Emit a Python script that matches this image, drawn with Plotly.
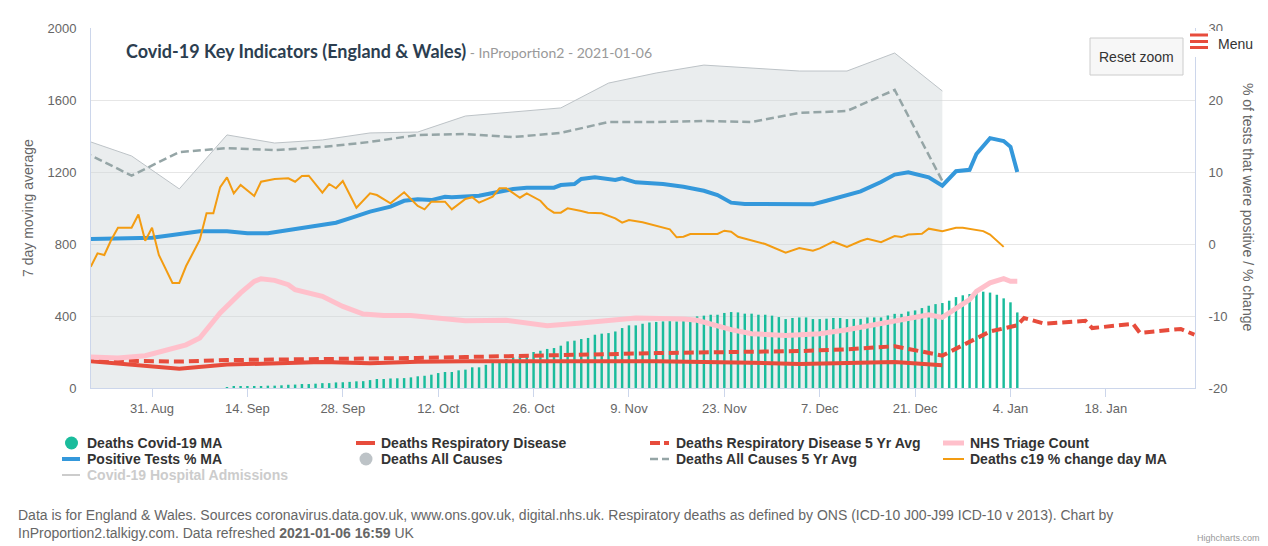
import plotly.graph_objects as go
import pandas as pd

# ---------------- data ----------------
x_range = ["2020-08-22 01:00", "2021-01-31 02:00"]

week_dates = ["2020-08-21", "2020-08-28", "2020-09-04", "2020-09-11", "2020-09-18", "2020-09-25",
              "2020-10-02", "2020-10-09", "2020-10-16", "2020-10-23", "2020-10-30", "2020-11-06",
              "2020-11-13", "2020-11-20", "2020-11-27", "2020-12-04", "2020-12-11", "2020-12-18",
              "2020-12-25"]
deaths_all = [1380, 1289, 1106, 1406, 1361, 1378, 1417, 1422, 1511, 1533, 1556, 1694,
              1750, 1794, 1778, 1761, 1761, 1861, 1650]
deaths_all_5y = [1311, 1180, 1311, 1333, 1322, 1339, 1367, 1406, 1411, 1394, 1417, 1478,
                 1478, 1483, 1478, 1528, 1539, 1656, 1150]
deaths_resp = [152, 130, 107, 130, 139, 144, 137, 146, 148, 150, 150, 149,
               148, 146, 140, 134, 140, 145, 126]

resp5_dates = week_dates + ["2021-01-01", "2021-01-05", "2021-01-06", "2021-01-09", "2021-01-15",
                            "2021-01-16", "2021-01-22", "2021-01-23", "2021-01-29", "2021-01-31"]
deaths_resp_5y = [155, 152, 147, 155, 157, 158, 162, 167, 172, 176, 182, 188,
                  194, 197, 198, 205, 215, 232, 180,
                  314, 348, 389, 357, 373, 333, 356, 306, 328, 296]

c19_start = "2020-09-11"
deaths_c19 = [5, 6, 6, 8, 9, 10, 13, 13, 15, 18, 19, 22, 22, 24, 27, 27, 31, 32, 34, 37,
              38, 44, 50, 50, 53, 54,
              55, 59, 65, 68, 74, 83, 89, 89, 98, 102,
              115, 115, 129, 142, 152, 161, 170, 176, 185, 200,
              207, 217, 222, 235, 259, 263, 272, 278, 296, 302,
              305, 314, 333, 348, 348, 357, 364, 367, 370, 372,
              370, 376, 385, 398, 402, 407, 407, 417, 422, 420,
              413, 413, 407, 407, 402, 394, 383, 389, 392, 392,
              383, 383, 385, 389, 389, 383,
              384, 384, 392, 392, 392, 403, 412, 412, 425, 431,
              444, 457, 466, 472, 485, 505, 515, 522, 532, 535,
              530, 518, 498, 476, 420]
c19_dates = pd.date_range(c19_start, periods=len(deaths_c19), freq="D")

triage_dates = ["2020-08-22", "2020-08-26", "2020-08-30", "2020-09-03", "2020-09-05", "2020-09-07",
                "2020-09-10", "2020-09-13", "2020-09-15", "2020-09-16", "2020-09-18", "2020-09-20",
                "2020-09-21", "2020-09-25", "2020-09-28", "2020-10-01", "2020-10-04", "2020-10-08",
                "2020-10-11", "2020-10-13", "2020-10-16", "2020-10-22", "2020-10-28", "2020-11-02",
                "2020-11-10", "2020-11-17", "2020-11-19", "2020-11-24", "2020-11-27", "2020-12-02",
                "2020-12-07", "2020-12-11", "2020-12-15", "2020-12-20", "2020-12-23", "2020-12-25",
                "2020-12-27", "2020-12-29", "2020-12-30", "2021-01-01", "2021-01-03", "2021-01-04",
                "2021-01-05"]
triage = [172, 167, 179, 218, 240, 278,
          417, 528, 592, 607, 598, 574,
          546, 509, 453, 411, 403, 403,
          392, 383, 374, 376, 346, 361,
          389, 383, 376, 324, 302, 291,
          302, 324, 354, 388, 407, 392,
          444, 491, 537, 584, 608, 593,
          593]

pos_dates = ["2020-08-22", "2020-08-27", "2020-08-31", "2020-09-03", "2020-09-05", "2020-09-07",
             "2020-09-11", "2020-09-14", "2020-09-17", "2020-09-19", "2020-09-22", "2020-09-25",
             "2020-09-27", "2020-09-29", "2020-10-02", "2020-10-05", "2020-10-07", "2020-10-09",
             "2020-10-11", "2020-10-13", "2020-10-14", "2020-10-18", "2020-10-21", "2020-10-23",
             "2020-10-25", "2020-10-29", "2020-10-30", "2020-11-01", "2020-11-02", "2020-11-04",
             "2020-11-07", "2020-11-08", "2020-11-10", "2020-11-12", "2020-11-14", "2020-11-17",
             "2020-11-20", "2020-11-22", "2020-11-24", "2020-11-26", "2020-11-30", "2020-12-03",
             "2020-12-06", "2020-12-08", "2020-12-10", "2020-12-13", "2020-12-16", "2020-12-18",
             "2020-12-20", "2020-12-23", "2020-12-25", "2020-12-27", "2020-12-29", "2020-12-30",
             "2021-01-01", "2021-01-03", "2021-01-04", "2021-01-05"]
pos_pct = [0.69, 0.74, 0.87, 1.25, 1.53, 1.76,
           1.76, 1.49, 1.49, 1.8, 2.3, 2.74,
           2.96, 3.57, 4.49, 5.18, 6.0, 6.2,
           6.1, 6.57, 6.5, 6.7, 7.26, 7.64,
           7.82, 7.82, 8.19, 8.33, 9.03, 9.26,
           8.89, 9.13, 8.57, 8.43, 8.33, 7.96,
           7.4, 6.8, 5.74, 5.56, 5.56, 5.51,
           5.51, 6.0, 6.57, 7.3, 8.6, 9.64,
           9.96, 9.26, 8.1, 10.1, 10.3, 12.5,
           14.7, 14.3, 13.5, 10.0]

chg_dates = ["2020-08-22", "2020-08-23", "2020-08-24", "2020-08-25", "2020-08-26", "2020-08-28",
             "2020-08-29", "2020-08-30", "2020-08-31", "2020-09-01", "2020-09-03", "2020-09-04",
             "2020-09-05", "2020-09-07", "2020-09-08", "2020-09-09", "2020-09-10", "2020-09-11",
             "2020-09-12", "2020-09-13", "2020-09-15", "2020-09-16", "2020-09-18", "2020-09-20",
             "2020-09-21", "2020-09-22", "2020-09-23", "2020-09-25", "2020-09-26", "2020-09-27",
             "2020-09-28", "2020-09-30", "2020-10-02", "2020-10-03", "2020-10-05", "2020-10-07",
             "2020-10-09", "2020-10-10", "2020-10-11", "2020-10-13", "2020-10-14", "2020-10-16",
             "2020-10-17", "2020-10-18", "2020-10-20", "2020-10-21", "2020-10-22", "2020-10-24",
             "2020-10-25", "2020-10-27", "2020-10-28", "2020-10-29", "2020-10-30", "2020-10-31",
             "2020-11-02", "2020-11-03", "2020-11-05", "2020-11-07", "2020-11-08", "2020-11-09",
             "2020-11-11", "2020-11-13", "2020-11-15", "2020-11-16", "2020-11-17", "2020-11-18",
             "2020-11-22", "2020-11-23", "2020-11-24", "2020-11-25", "2020-11-27", "2020-11-29",
             "2020-12-02", "2020-12-04", "2020-12-06", "2020-12-07", "2020-12-09", "2020-12-11",
             "2020-12-13", "2020-12-14", "2020-12-16", "2020-12-18", "2020-12-19", "2020-12-20",
             "2020-12-22", "2020-12-23", "2020-12-25", "2020-12-27", "2020-12-28", "2020-12-30",
             "2020-12-31", "2021-01-01", "2021-01-03"]
chg_pct = [-3.15, -1.3, -1.53, 0.56, 2.26, 2.26,
           4.1, 0.46, 2.26, -1.53, -5.4, -5.4,
           -3.06, 0.56, 4.26, 4.26, 7.9, 9.26,
           7.04, 8.2, 6.67, 8.65, 9.03, 9.13,
           8.65, 9.44, 9.49, 7.13, 8.33, 7.74,
           8.75, 5.04, 7.04, 6.8, 5.65, 7.18,
           5.28, 4.82, 5.88, 5.88, 4.82, 6.25,
           6.5, 5.74, 6.57, 7.74, 7.74, 6.43,
           7.04, 6.01, 4.96, 4.35, 4.35, 4.96,
           4.58, 4.35, 4.26, 3.57, 2.96, 3.33,
           3.01, 2.54, 2.04, 0.93, 1.01, 1.39,
           1.39, 1.85, 1.71, 1.01, 0.46, 0.0,
           -1.21, -0.56, -0.93, -0.6, 0.32, -0.4,
           0.42, 0.72, 0.25, 1.1, 0.96, 1.32,
           1.42, 2.13, 1.79, 2.26, 2.26, 1.89,
           1.79, 1.32, -0.4]

left_ticks = [0, 400, 800, 1200, 1600, 2000]
right_ticks = [-20, -10, 0, 10, 20, 30]

legend_row1 = ["Deaths Covid-19 MA", "Deaths Respiratory Disease",
               "Deaths Respiratory Disease 5 Yr Avg", "NHS Triage Count"]
legend_row2 = ["Positive Tests % MA", "Deaths All Causes",
               "Deaths All Causes 5 Yr Avg", "Deaths c19 % change day MA"]
legend_row3 = ["Covid-19 Hospital Admissions"]

# ---------------- styling ----------------
TEAL = "#1abc9c"
RED = "#e74c3c"
PINK = "#ffc0cb"
BLUE = "#3498db"
ORANGE = "#f39c12"
GREY_D = "#95a5a6"
GREY_A = "#bdc3c7"
FONT = "Liberation Sans, Arial, sans-serif"

W, H = 1268, 546
ML, MR, MT, MB = 91, 73, 28, 158
PW, PH = W - ML - MR, H - MT - MB


def px(x):
    return (x - ML) / PW


def py(y):
    return (H - MB - y) / PH


fig = go.Figure()

# area + 5yr average on main left axis (bottom layer)
fig.add_trace(go.Scatter(x=week_dates, y=deaths_all, mode="lines", name="Deaths All Causes",
                         line=dict(color=GREY_A, width=1), fill="tozeroy",
                         fillcolor="rgba(208,214,218,0.45)", yaxis="y"))
fig.add_trace(go.Scatter(x=week_dates, y=deaths_all_5y, mode="lines", name="Deaths All Causes 5 Yr Avg",
                         line=dict(color=GREY_D, width=2.5, dash="8px,4px"), yaxis="y"))

# percentage series on right axis
fig.add_trace(go.Scatter(x=pos_dates, y=pos_pct, mode="lines", name="Positive Tests % MA",
                         line=dict(color=BLUE, width=4), yaxis="y2"))
fig.add_trace(go.Scatter(x=chg_dates, y=chg_pct, mode="lines", name="Deaths c19 % change day MA",
                         line=dict(color=ORANGE, width=2), yaxis="y2"))

# bars and lower lines on overlay left-scale axis (drawn above the area)
fig.add_trace(go.Bar(x=c19_dates, y=deaths_c19, name="Deaths Covid-19 MA",
                     marker=dict(color=TEAL, line=dict(width=0)),
                     width=0.36 * 86400000, yaxis="y3"))
fig.add_trace(go.Scatter(x=week_dates, y=deaths_resp, mode="lines", name="Deaths Respiratory Disease",
                         line=dict(color=RED, width=4), yaxis="y3"))
fig.add_trace(go.Scatter(x=resp5_dates, y=deaths_resp_5y, mode="lines",
                         name="Deaths Respiratory Disease 5 Yr Avg",
                         line=dict(color=RED, width=4, dash="10px,5px"), yaxis="y3"))
fig.add_trace(go.Scatter(x=triage_dates, y=triage, mode="lines", name="NHS Triage Count",
                         line=dict(color=PINK, width=5), yaxis="y3"))

fig.update_layout(
    width=W, height=H,
    margin=dict(l=ML, r=MR, t=MT, b=MB),
    paper_bgcolor="white", plot_bgcolor="white",
    showlegend=False, hovermode=False,
    font=dict(family=FONT, size=13, color="#666666"),
    xaxis=dict(type="date", range=x_range, tick0="2020-08-31", dtick=14 * 86400000,
               tickformat="%-d. %b", ticks="outside", ticklen=8, tickcolor="#ccd6eb",
               showline=True, linecolor="#ccd6eb", showgrid=False, zeroline=False,
               tickfont=dict(size=13, color="#666666", family=FONT)),
    yaxis=dict(range=[0, 2000], tickvals=left_ticks, ticktext=[str(v) for v in left_ticks],
               showgrid=True, gridcolor="#e6e6e6", showline=True, linecolor="#ccd6eb",
               zeroline=False, ticks="outside", ticklen=11, tickcolor="rgba(0,0,0,0)",
               tickfont=dict(size=13, color="#666666", family=FONT)),
    yaxis2=dict(range=[-20, 30], overlaying="y", side="right", tickvals=right_ticks,
                ticktext=[str(v) for v in right_ticks], showgrid=False, showline=True,
                linecolor="#ccd6eb", zeroline=False, ticks="outside", ticklen=10,
                tickcolor="rgba(0,0,0,0)", tickfont=dict(size=13, color="#666666", family=FONT)),
    yaxis3=dict(range=[0, 2000], overlaying="y", visible=False),
)

shapes = []
annotations = []

# title
annotations.append(dict(
    x=px(124), y=py(51), xref="paper", yref="paper", xanchor="left", yanchor="middle",
    showarrow=False,
    text="<b>Covid-19 Key Indicators (England &amp; Wales)</b>"
         "<span style='font-size:14px;color:#999999'> - InProportion2 - 2021-01-06</span>",
    font=dict(family="Lato, sans-serif", size=18, color="#2c3e50")))

# axis titles
annotations.append(dict(x=px(28), y=py(208), xref="paper", yref="paper", showarrow=False,
                        xanchor="center", yanchor="middle",
                        text="7 day moving average", textangle=-90,
                        font=dict(family=FONT, size=14, color="#666666")))
annotations.append(dict(x=px(1248), y=py(207), xref="paper", yref="paper", showarrow=False,
                        xanchor="center", yanchor="middle",
                        text="% of tests that were positive / % change", textangle=90,
                        font=dict(family=FONT, size=14, color="#666666")))

# reset zoom button
shapes.append(dict(type="rect", xref="paper", yref="paper", x0=px(1090), x1=px(1183),
                   y0=py(75), y1=py(38), fillcolor="#f7f7f7", line=dict(color="#cccccc", width=1)))
annotations.append(dict(x=px(1136.5), y=py(57), xref="paper", yref="paper", showarrow=False,
                        xanchor="center", yanchor="middle",
                        text="Reset zoom", font=dict(family=FONT, size=14, color="#333333")))

# menu button
shapes.append(dict(type="rect", xref="paper", yref="paper", x0=px(1188), x1=px(1262),
                   y0=py(57), y1=py(31), fillcolor="white", line=dict(width=0)))
for yy in (35, 41.5, 47.5):
    shapes.append(dict(type="line", xref="paper", yref="paper", x0=px(1190), x1=px(1208),
                       y0=py(yy), y1=py(yy), line=dict(color=RED, width=3)))
annotations.append(dict(x=px(1216), y=py(44), xref="paper", yref="paper", showarrow=False,
                        xanchor="left", yanchor="middle",
                        text="Menu", font=dict(family=FONT, size=14, color="#333333")))

# manual legend
col_sym = [(62, 80), (356, 375), (650, 669), (943, 964)]
col_txt = [85, 379, 674, 968]
row_y = [443, 459, 475]


def leg_line(col, row, color, width, dash="solid"):
    x0, x1 = col_sym[col]
    shapes.append(dict(type="line", xref="paper", yref="paper", x0=px(x0), x1=px(x1),
                       y0=py(row_y[row]), y1=py(row_y[row]),
                       line=dict(color=color, width=width, dash=dash)))


def leg_circle(col, row, color):
    cx = (col_sym[col][0] + col_sym[col][1]) / 2 + 0.5
    r = 6.5
    shapes.append(dict(type="circle", xref="paper", yref="paper", x0=px(cx - r), x1=px(cx + r),
                       y0=py(row_y[row] + r), y1=py(row_y[row] - r),
                       fillcolor=color, line=dict(width=0)))


def leg_text(col, row, text, color="#333333"):
    annotations.append(dict(x=px(col_txt[col]), y=py(row_y[row]), xref="paper", yref="paper",
                            xanchor="left", yanchor="middle", showarrow=False,
                            text="<b>" + text + "</b>",
                            font=dict(family=FONT, size=14, color=color)))


leg_circle(0, 0, TEAL)
leg_line(1, 0, RED, 4)
leg_line(2, 0, RED, 4, "10px,4px")
leg_line(3, 0, PINK, 5)
leg_line(0, 1, BLUE, 4)
leg_circle(1, 1, GREY_A)
leg_line(2, 1, GREY_D, 2.5, "8px,4px")
leg_line(3, 1, ORANGE, 2)
leg_line(0, 2, "#cccccc", 2)
for i, t in enumerate(legend_row1):
    leg_text(i, 0, t)
for i, t in enumerate(legend_row2):
    leg_text(i, 1, t)
leg_text(0, 2, legend_row3[0], "#cccccc")

# footer
annotations.append(dict(
    x=px(16), y=py(505), xref="paper", yref="paper", xanchor="left", yanchor="top",
    showarrow=False, align="left",
    text="Data is for England &amp; Wales. Sources coronavirus.data.gov.uk, www.ons.gov.uk, digital.nhs.uk. "
         "Respiratory deaths as defined by ONS (ICD-10 J00-J99 ICD-10 v 2013). Chart by<br>"
         "InProportion2.talkigy.com. Data refreshed <b>2021-01-06 16:59</b> UK",
    font=dict(family=FONT, size=14, color="#666666")))
annotations.append(dict(x=px(1262), y=py(545), xref="paper", yref="paper", xanchor="right",
                        yanchor="bottom", showarrow=False, text="Highcharts.com",
                        font=dict(family=FONT, size=9, color="#999999")))

fig.update_layout(shapes=shapes, annotations=annotations)

fig.write_html("out.html", config={"displayModeBar": False},
               post_script="document.body.style.margin='0px';document.body.style.overflow='hidden';")
